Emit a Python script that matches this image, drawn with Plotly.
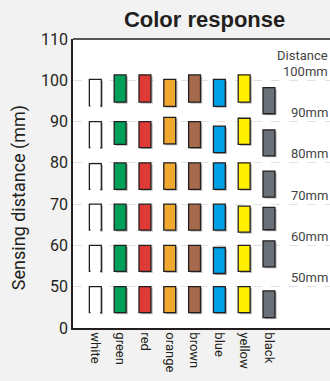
import plotly.graph_objects as go

# ---- data ----
color_names = ["white", "green", "red", "orange", "brown", "blue", "yellow", "black"]
fill_colors = ["#ffffff", "#00a05a", "#e03a36", "#f0a830", "#a86a4c", "#00a0e6", "#fff000", "#6a7078"]

distances = [100, 90, 80, 70, 60, 50]
tops_100 = [100.2, 101.3, 101.3, 100.2, 101.3, 100.2, 101.3, 98.2]
bots_100 = [93.8, 94.7, 94.7, 93.7, 94.7, 93.7, 94.7, 91.9]
tops_90 = [90.0, 90.0, 90.0, 91.0, 90.0, 88.9, 90.8, 88.0]
bots_90 = [83.7, 84.5, 83.7, 84.6, 83.7, 82.5, 84.5, 81.7]
tops_80 = [79.8, 80.0, 80.0, 80.0, 80.0, 80.0, 80.0, 78.0]
bots_80 = [73.6, 73.6, 73.6, 73.6, 73.6, 73.6, 73.6, 71.7]
tops_70 = [70.0, 70.0, 70.0, 70.0, 70.0, 70.0, 69.5, 69.2]
bots_70 = [63.7, 63.7, 63.7, 63.7, 63.7, 63.7, 63.2, 63.8]
tops_60 = [60.0, 60.0, 60.0, 60.0, 60.0, 59.5, 60.0, 61.1]
bots_60 = [53.7, 53.7, 53.7, 53.7, 53.7, 53.2, 53.7, 54.8]
tops_50 = [50.0, 50.0, 50.0, 50.0, 50.0, 50.0, 50.0, 49.0]
bots_50 = [43.7, 43.7, 43.7, 43.7, 43.7, 43.7, 43.7, 42.5]

y_tick_vals = [40, 50, 60, 70, 80, 90, 100, 110]
y_tick_text = ["0", "50", "60", "70", "80", "90", "100", "110"]

groups = [
    (tops_100, bots_100), (tops_90, bots_90), (tops_80, bots_80),
    (tops_70, bots_70), (tops_60, bots_60), (tops_50, bots_50),
]

xpos = list(range(len(color_names)))
BW = 0.48
TXT = "#231f20"

fig = go.Figure()

# shadows
for tops, bots in groups:
    fig.add_trace(go.Bar(
        x=xpos, y=[t - b for t, b in zip(tops, bots)],
        base=[b - 0.35 for b in bots],
        width=BW, offset=-BW / 2 + 0.07,
        marker=dict(color="rgba(120,120,120,0.55)", line=dict(width=0)),
        hoverinfo="skip", showlegend=False,
    ))

# bars
for tops, bots in groups:
    fig.add_trace(go.Bar(
        x=xpos, y=[t - b for t, b in zip(tops, bots)], base=bots,
        width=BW,
        marker=dict(color=fill_colors, line=dict(color=TXT, width=1.3)),
        showlegend=False,
    ))

# white bars open at the bottom: cover bottom edge with narrower white bar
for tops, bots in groups:
    fig.add_trace(go.Bar(
        x=[0], y=[(tops[0] - bots[0]) - 0.3], base=[bots[0] - 0.5],
        width=BW - 0.09,
        marker=dict(color="#ffffff", line=dict(width=0)),
        hoverinfo="skip", showlegend=False,
    ))

annotations = [
    dict(text="Distance", xref="paper", x=1.0, xanchor="right", y=100, yref="y",
         yshift=25, showarrow=False, font=dict(size=13, color="#444")),
]
for d in distances:
    annotations.append(dict(text=f"{d}mm", xref="paper", x=1.0, xanchor="right",
                            y=d, yref="y", yshift=9, showarrow=False,
                            font=dict(size=13, color="#444")))
annotations.append(dict(text="Sensing distance (mm)", xref="paper", yref="paper",
                        x=-0.26, y=0.45, textangle=-90, showarrow=False,
                        font=dict(size=18, color=TXT)))

fig.update_layout(
    width=330, height=381,
    margin=dict(l=73, r=0, t=39, b=53),
    paper_bgcolor="#f2f2f2", plot_bgcolor="#ffffff",
    barmode="overlay",
    font=dict(family="Roboto, Liberation Sans, sans-serif", color=TXT),
    title=dict(text="<b>Color response</b>", x=0.62, xanchor="center", y=0.95, yanchor="middle",
               font=dict(family="Liberation Sans, Arial, sans-serif", size=22, color=TXT)),
    xaxis=dict(range=[-0.9, 9.46], tickvals=xpos, ticktext=color_names, tickangle=90,
               showgrid=False, zeroline=False, showline=True, linecolor=TXT, linewidth=1.5,
               ticks="", tickfont=dict(size=13, color=TXT)),
    yaxis=dict(range=[40, 110], tickvals=y_tick_vals, ticktext=y_tick_text,
               showgrid=True, gridcolor="#e2e2e2", griddash="dash", gridwidth=1,
               zeroline=False, showline=True, linecolor=TXT, linewidth=1.5,
               ticks="", tickfont=dict(size=16, color=TXT)),
    annotations=annotations,
    shapes=[dict(type="line", xref="paper", yref="paper", x0=0, x1=1, y0=1, y1=1,
                 line=dict(color=TXT, width=1.5))],
)

fig.write_html("out.html", config={"displayModeBar": False},
               post_script="document.body.style.margin='0';document.body.style.overflow='hidden';")
